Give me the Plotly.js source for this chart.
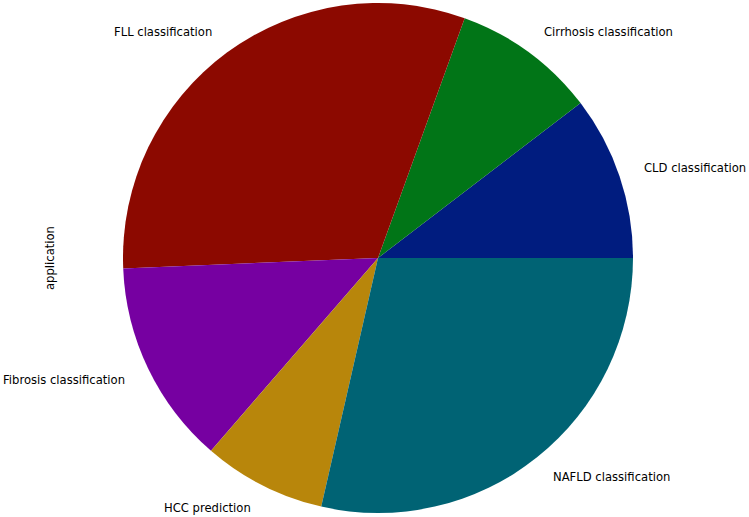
<!DOCTYPE html>
<html>
<head>
<meta charset="utf-8">
<script src="https://cdn.plot.ly/plotly-3.0.1.min.js"></script>
<style>html,body{margin:0;padding:0;background:#fff;}</style>
</head>
<body>
<div id="chart" style="width:749px;height:517px;"></div>
<script>
const categories = ["CLD classification", "Cirrhosis classification", "FLL classification", "Fibrosis classification", "HCC prediction", "NAFLD classification"];
const counts = [8, 7, 24, 10, 6, 22];
const colors = ["#001C7F", "#017517", "#8C0900", "#7600A1", "#B8860B", "#006374"];
const axisLabel = "application";

const W = 749, H = 517;
const cx = 378, cy = 258, R = 255;
const fontSize = 11.6;

const total = counts.reduce((a, b) => a + b, 0);
const annotations = [];
let cum = 0;
counts.forEach((v, i) => {
  const mid = (cum + v / 2) / total * 2 * Math.PI;
  cum += v;
  const px = cx + 1.1 * R * Math.cos(mid);
  const py = cy - 1.1 * R * Math.sin(mid);
  const right = Math.cos(mid) > 0;
  annotations.push({
    text: categories[i], xref: "paper", yref: "paper",
    x: px / W, y: 1 - py / H,
    xanchor: right ? "left" : "right", yanchor: "middle",
    xshift: right ? -1 : 1, borderpad: 0,
    showarrow: false, font: {family: "DejaVu Sans", size: fontSize, color: "#000"}
  });
});
annotations.push({
  text: axisLabel, xref: "paper", yref: "paper", x: 50 / W, y: 1 - cy / H,
  xanchor: "center", yanchor: "middle", textangle: -90, showarrow: false,
  font: {family: "DejaVu Sans", size: fontSize, color: "#000"}
});

const data = [{
  type: "pie", values: counts, labels: categories, sort: false,
  direction: "counterclockwise", rotation: 90 - 360 * counts[0] / total,
  marker: {colors: colors, line: {width: 0}},
  textinfo: "none", hoverinfo: "label+value", showlegend: false,
  domain: {x: [(cx - R) / W, (cx + R) / W], y: [(H - cy - R) / H, (H - cy + R) / H]}
}];

const layout = {
  width: W, height: H, margin: {l: 0, r: 0, t: 0, b: 0},
  paper_bgcolor: "#fff", plot_bgcolor: "#fff",
  annotations: annotations
};
Plotly.newPlot("chart", data, layout, {displayModeBar: false, staticPlot: true});
</script>
</body>
</html>
